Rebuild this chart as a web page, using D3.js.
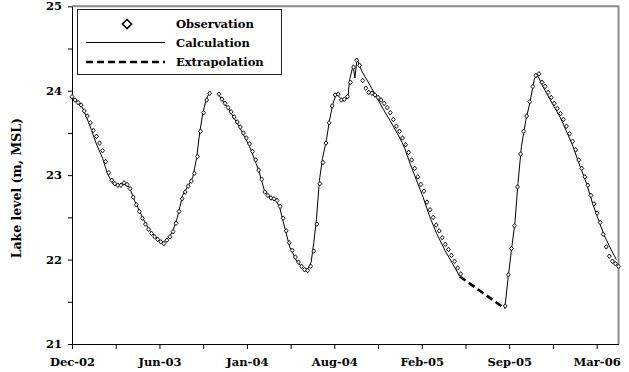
<!DOCTYPE html>
<html><head><meta charset="utf-8">
<script src="https://cdn.jsdelivr.net/npm/d3@7"></script>
<style>
body{margin:0;background:#fff}
svg{display:block}
text{font-family:"DejaVu Serif","Liberation Serif",serif;font-weight:bold;fill:#000}
</style>
</head><body>
<svg id="c" width="629" height="372"></svg>
<script>
// ---------- DATA (x = Excel date serial numbers) ----------
const xTicks = [37601,37701,37801,37901,38001,38101,38201,38301,38401,38501,38601,38701,38801];
const xTickLabels = ["Dec-02","Jun-03","Jan-04","Aug-04","Feb-05","Sep-05","Mar-06"];
const yTicks = [21,21.5,22,22.5,23,23.5,24,24.5,25];
const yTickLabels = ["21","","22","","23","","24","","25"];
const legendLabels = ["Observation","Calculation","Extrapolation"];

// calculated lake level
const calcA = [[37601,23.92],[37613,23.87],[37625,23.80],[37641,23.60],[37656,23.38],[37671,23.20],[37682,23.02],[37694,22.90],[37705,22.88],[37718,22.90],[37732,22.86],[37744,22.70],[37755,22.58],[37767,22.45],[37778,22.35],[37792,22.27],[37807,22.20],[37817,22.23],[37831,22.33],[37842,22.50],[37854,22.76],[37865,22.86],[37877,22.97],[37886,23.20],[37893,23.50],[37900,23.73],[37908,23.90],[37915,23.97]];
const calcB = [[37934,23.97],[37961,23.77],[37984,23.57],[38007,23.34],[38022,23.14],[38029,23.04],[38041,22.82],[38053,22.74],[38068,22.70],[38076,22.62],[38083,22.47],[38099,22.15],[38115,21.98],[38133,21.88],[38142,21.90],[38148,21.97],[38154,22.20],[38160,22.47],[38167,22.94],[38174,23.20],[38183,23.42],[38190,23.65],[38198,23.85],[38206,23.97],[38213,23.92],[38222,23.88],[38232,23.92],[38236,24.13],[38244,24.30],[38248,24.15],[38253,24.38],[38263,24.24],[38281,24.08],[38297,23.93],[38313,23.78],[38328,23.65],[38351,23.44],[38362,23.32],[38374,23.14],[38404,22.74],[38419,22.51],[38435,22.31],[38454,22.11],[38488,21.80]];
const calcC = [[38591,21.42],[38598,21.76],[38606,22.11],[38614,22.43],[38621,22.90],[38629,23.34],[38639,23.65],[38648,23.85],[38659,24.15],[38667,24.17],[38678,24.05],[38694,23.90],[38717,23.69],[38732,23.52],[38747,23.34],[38762,23.12],[38778,22.90],[38792,22.66],[38808,22.43],[38819,22.28],[38831,22.15],[38846,22.00]];
const extrap = [[38488,21.80],[38591,21.42]];

// weekly observations (start serial, 7-day step)
const obsStep = 7;
const obsAStart = 37601;
const obsA = [23.93,23.89,23.86,23.83,23.76,23.70,23.62,23.53,23.46,23.38,23.29,23.16,23.03,22.94,22.90,22.88,22.88,22.91,22.89,22.84,22.74,22.65,22.57,22.49,22.42,22.36,22.31,22.27,22.24,22.21,22.19,22.23,22.27,22.33,22.43,22.57,22.72,22.80,22.87,22.93,23.02,23.22,23.52,23.74,23.89,23.97];
const obsBStart = 37937;
const obsB = [23.96,23.90,23.85,23.80,23.75,23.69,23.63,23.57,23.50,23.44,23.37,23.28,23.18,23.06,22.95,22.80,22.76,22.73,22.72,22.70,22.63,22.49,22.34,22.20,22.11,22.03,21.97,21.92,21.88,21.87,21.92,22.10,22.42,22.90,23.15,23.38,23.62,23.82,23.95,23.96,23.89,23.90,23.93,24.10,24.28,24.36,24.30,24.12,24.03,23.98,23.97,23.95,23.92,23.89,23.85,23.80,23.74,23.66,23.58,23.52,23.44,23.36,23.27,23.18,23.08,22.98,22.89,22.81,22.68,22.59,22.50,22.41,22.34,22.26,22.18,22.12,22.05,21.98,21.90,21.83];
const obsCStart = 38592;
const obsC = [21.45,21.82,22.13,22.40,22.86,23.25,23.52,23.70,23.87,24.05,24.18,24.20,24.10,24.05,23.98,23.92,23.85,23.79,23.73,23.66,23.58,23.49,23.40,23.30,23.18,23.08,22.98,22.88,22.76,22.66,22.55,22.44,22.30,22.15,22.04,21.98,21.95,21.92];

// ---------- CHART ----------
const svg = d3.select('#c');
const x = d3.scaleLinear().domain([37601, 38851]).range([72, 618.5]);
const y = d3.scaleLinear().domain([21, 25]).range([344, 6.3]);
const [x0, x1] = x.range();

// plot frame (top + right, grey)
svg.append('path')
  .attr('d', `M${x0},${y(25)}H${x1}V${y(21)}`)
  .attr('fill', 'none').attr('stroke', '#8a8a8a').attr('stroke-width', 2);

// axes
const yAxis = d3.axisLeft(y).tickValues(yTicks).tickSize(4).tickSizeOuter(0).tickPadding(6)
  .tickFormat((d, i) => yTickLabels[i]);
const gy = svg.append('g').attr('transform', `translate(${x0},0)`).call(yAxis);
const xAxis = d3.axisBottom(x).tickValues(xTicks).tickSize(5).tickSizeOuter(0).tickPadding(9)
  .tickFormat((d, i) => i % 2 ? '' : xTickLabels[i / 2]);
const gx = svg.append('g').attr('transform', `translate(0,${y(21)})`).call(xAxis);
[gx, gy].forEach(g => {
  g.selectAll('text').style('font-family', '"DejaVu Serif",serif').style('font-weight', 'bold')
    .style('font-size', '11.5px').attr('fill', '#000');
  g.select('.domain').attr('stroke', '#000');
  g.selectAll('.tick line').attr('stroke', '#000');
});

// y title
svg.append('text')
  .attr('transform', `translate(17,${(y(25) + y(21)) / 2 + 13}) rotate(-90)`)
  .attr('text-anchor', 'middle').attr('dy', '0.35em')
  .style('font-size', '12.5px')
  .text('Lake level (m, MSL)');

// lines
const line = d3.line().x(d => x(d[0])).y(d => y(d[1]));
[calcA, calcB, calcC].forEach(seg => {
  svg.append('path').datum(seg).attr('d', line)
    .attr('fill', 'none').attr('stroke', '#000').attr('stroke-width', 1);
});
svg.append('path').datum(extrap).attr('d', line)
  .attr('fill', 'none').attr('stroke', '#000').attr('stroke-width', 2.6)
  .attr('stroke-dasharray', '7,4');

// observations
const diamond = (w, h) => `M0,${-h}L${w},0L0,${h}L${-w},0Z`;
const obsPts = [];
[[obsAStart, obsA], [obsBStart, obsB], [obsCStart, obsC]].forEach(([s, vals]) => {
  vals.forEach((v, i) => obsPts.push([s + i * obsStep, v]));
});
svg.append('g').selectAll('path').data(obsPts).join('path')
  .attr('transform', d => `translate(${x(d[0])},${y(d[1])})`)
  .attr('d', diamond(1.9, 2.3))
  .attr('fill', '#fff').attr('stroke', '#111').attr('stroke-width', 1);

// legend
const lg = svg.append('g');
lg.append('rect').attr('x', 77.5).attr('y', 9.5).attr('width', 204).attr('height', 65)
  .attr('fill', '#fff').attr('stroke', '#222').attr('stroke-width', 1);
const rowY = [24, 42.5, 62];
lg.append('path').attr('transform', `translate(127,${rowY[0]})`).attr('d', diamond(4.5, 4.5))
  .attr('fill', '#fff').attr('stroke', '#000').attr('stroke-width', 1.6);
lg.append('line').attr('x1', 86).attr('x2', 165).attr('y1', rowY[1]).attr('y2', rowY[1])
  .attr('stroke', '#000').attr('stroke-width', 1);
lg.append('line').attr('x1', 86).attr('x2', 165).attr('y1', rowY[2]).attr('y2', rowY[2])
  .attr('stroke', '#000').attr('stroke-width', 2.5).attr('stroke-dasharray', '7,4');
legendLabels.forEach((t, i) => {
  lg.append('text').attr('x', 176).attr('y', rowY[i]).attr('dy', '0.35em')
    .style('font-size', '11.5px').text(t);
});
</script>
</body></html>
